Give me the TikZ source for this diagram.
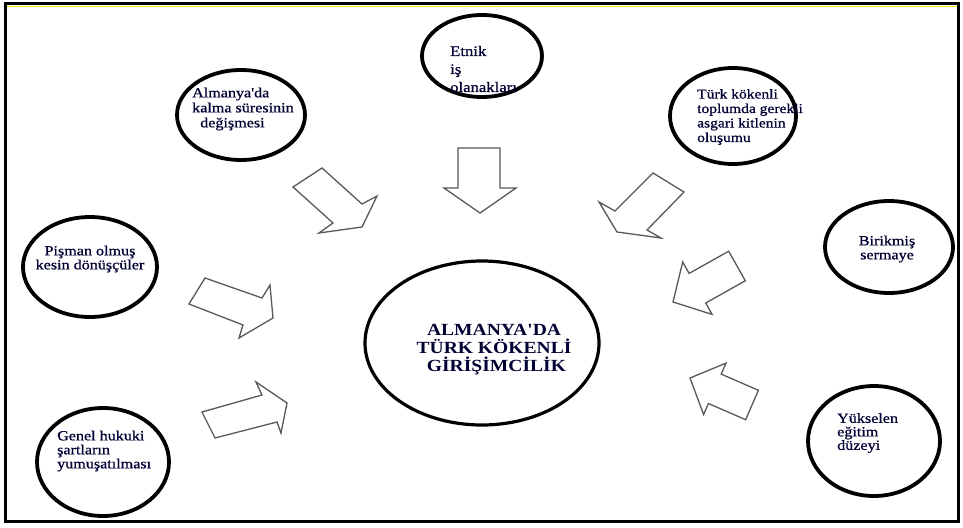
\documentclass[tikz,border=0pt]{standalone}
\usepackage{fontspec}
\setmainfont[FakeStretch=1.15,Ligatures=TeXOff]{Liberation Serif}
\newfontfamily\lblfont[FakeStretch=1.15,FakeBold=0.8,Ligatures=TeXOff]{Liberation Serif}
\usetikzlibrary{shapes.geometric}
\begin{document}
\begin{tikzpicture}[x=1pt,y=-1pt,
  bubble/.style={draw=black,line width=3.8pt,ellipse,inner sep=0pt},
  lbl/.style={align=left,inner sep=0pt,font=\lblfont\fontsize{14}{15}\selectfont,text=black!80!blue},
  clbl/.style={align=center,inner sep=0pt,font=\lblfont\fontsize{14}{14}\selectfont,text=black!80!blue},
  blockarr/.style={draw=black!65,line width=1.3pt,line join=miter,fill=white}]
\useasboundingbox (0,0) rectangle (963,527);
\fill[white] (0,0) rectangle (963,527);
% frame
\draw[yellow!90!orange,line width=1.5pt] (6,6.5) -- (957,6.5);
\draw[black,line width=3pt] (5,4) rectangle (958,521);
% ellipses
\node[bubble,minimum width=128pt,minimum height=90pt] (e1) at (241,115) {};
\node[bubble,minimum width=120pt,minimum height=82pt] (e2) at (482,56) {};
\node[bubble,minimum width=126pt,minimum height=96pt] (e3) at (733,116) {};
\node[bubble,minimum width=128pt,minimum height=92pt] (e4) at (889,247) {};
\node[bubble,minimum width=134pt,minimum height=100pt] (e5) at (90,267) {};
\node[bubble,minimum width=132pt,minimum height=108pt] (e6) at (103,462) {};
\node[bubble,minimum width=132pt,minimum height=110pt] (e7) at (874,441) {};
\node[bubble,line width=3.2pt,minimum width=234pt,minimum height=164pt] (ec) at (482,343) {};
% texts
\node[lbl,anchor=west] (t1) at (192,109) {Almanya'da\\kalma süresinin\\\ \ değişmesi};
\node[lbl,anchor=west,font=\lblfont\fontsize{14.5}{18}\selectfont] (t2) at (450,69) {Etnik\\iş\\olanakları};
\node[lbl,anchor=west,font=\lblfont\fontsize{13.5}{14.5}\selectfont] (t3) at (697,117) {Türk kökenli\\toplumda gerekli\\asgari kitlenin\\oluşumu};
\node[clbl] (t4) at (887,249) {Birikmiş\\sermaye};
\node[clbl] (t5) at (90,259) {Pişman olmuş\\kesin dönüşçüler};
\node[lbl,anchor=west,font=\lblfont\fontsize{14}{14}\selectfont] (t6) at (57,451) {Genel hukuki\\şartların\\yumuşatılması};
\node[lbl,anchor=west,font=\lblfont\fontsize{14}{13.5}\selectfont] (t7) at (837,433) {Yükselen\\eğitim\\düzeyi};
\node[align=center,inner sep=0pt,font=\fontsize{17}{18}\selectfont\bfseries,text=black!80!blue] (tc) at (494,350) {ALMANYA'DA\\TÜRK KÖKENLİ\\\ GİRİŞİMCİLİK};
% block arrows
\draw[blockarr] (293,187) -- (322,168) -- (362,204) -- (377,196) -- (362,227) -- (319,233) -- (333,223) -- cycle;
\draw[blockarr] (458,148) -- (500,148) -- (500,188) -- (516,188) -- (480,213) -- (444,188) -- (458,188) -- cycle;
\draw[blockarr] (653,173) -- (684,192) -- (647,230) -- (661,238) -- (617,232) -- (599,202) -- (615,211) -- cycle;
\draw[blockarr] (728.7,251.2) -- (745.3,280.8) -- (705.7,303.0) -- (712.1,314.4) -- (673,302) -- (682.7,262.0) -- (689.1,273.4) -- cycle;
\draw[blockarr] (205,278) -- (262,298) -- (270,285) -- (273,318) -- (239,338) -- (243,325) -- (189,304) -- cycle;
\draw[blockarr] (202,412) -- (262,395) -- (256,382) -- (287,403) -- (281,433) -- (277,422) -- (215,438) -- cycle;
\draw[blockarr] (758.4,390.3) -- (745.6,419.7) -- (708.4,403.5) -- (703.6,414.5) -- (690,378) -- (726.0,363.1) -- (721.2,374.1) -- cycle;
\end{tikzpicture}
\end{document}
